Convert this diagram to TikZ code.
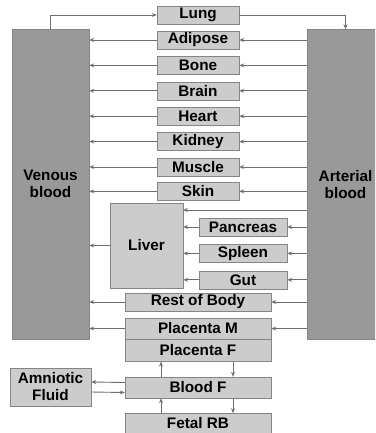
\documentclass[tikz,border=0pt]{standalone}
\usepackage{fontspec}
\setmainfont{Liberation Sans}
\usepackage{tikz}
\usetikzlibrary{
    arrows.meta,
    positioning,
    calc
}
\usepackage{xcolor}
\definecolor{poolgray}{HTML}{999999}
\definecolor{boxgray}{HTML}{CCCCCC}
\definecolor{edgegray}{HTML}{858585}
\definecolor{flowgray}{HTML}{6E6E6E}
\tikzstyle{pool} = [
    rectangle,
    draw=edgegray,
    fill=poolgray,
    minimum width=77pt,
    minimum height=310pt,
    inner sep=0pt,
    align=center,
    font=\bfseries\fontsize{15.3}{17}\selectfont
]
\tikzstyle{organ} = [
    rectangle,
    draw=edgegray,
    fill=boxgray,
    minimum width=82pt,
    minimum height=18pt,
    inner sep=0pt,
    font=\bfseries\fontsize{15.3}{17}\selectfont
]
\tikzstyle{arrow} = [
    -{Stealth[length=5pt,width=4pt]},
    line width=0.9pt,
    draw=flowgray
]

\begin{document}
\begin{tikzpicture}[x=1pt, y=-1pt]
        \clip (0,0) rectangle (375,433);

        % Blood pools
        \node[pool] (ven) at (50.5,184) {Venous\\blood};
        \node[pool] (art) at (345.5,184.5) {Arterial\\blood};

        % Organs
        \node[organ] (lung) at (198,15) {Lung};
        \node[organ] (adipose) at (198,40) {Adipose};
        \node[organ, below=7pt of adipose] (bone) {Bone};
        \node[organ, below=7pt of bone] (brain) {Brain};
        \node[organ, below=7pt of brain] (heart) {Heart};
        \node[organ, below=7pt of heart] (kidney) {Kidney};
        \node[organ, below=7pt of kidney] (muscle) {Muscle};
        \node[organ, below=6pt of muscle] (skin) {Skin};

        % Splanchnic
        \node[organ, minimum width=73pt, minimum height=85pt] (liver) at (146.5,245.5) {Liver};
        \node[organ, minimum width=88pt] (pancreas) at (243,227) {Pancreas};
        \node[organ, minimum width=88pt, below=8pt of pancreas] (spleen) {Spleen};
        \node[organ, minimum width=88pt, below=8pt of spleen] (gut) {Gut};
        \coordinate (liverin) at (183,210);

        % Rest and placenta
        \node[organ, minimum width=146pt] (rest) at (198,302) {Rest of Body};
        \node[organ, minimum width=146pt, minimum height=21pt] (placm) at (198,328.5) {Placenta M};
        \node[organ, minimum width=146pt, minimum height=22pt, below=0pt of placm] (placf) {Placenta F};

        % Fetus
        \node[organ, minimum width=146pt, minimum height=21pt] (bloodf) at (198,387.5) {Blood F};
        \node[organ, minimum width=146pt, minimum height=20pt, below=15pt of bloodf] (fetalrb) {Fetal RB};
        \node[organ, minimum width=81pt, minimum height=38pt, align=center] (amnio) at (50.5,387) {Amniotic\\Fluid};

        % Lung loop
        \draw[arrow] (ven.north) |- (lung.west);
        \draw[arrow] (lung.east) -| (art.north);

        % Arterial to organs to venous
        \foreach \o in {adipose,bone,brain,heart,kidney,muscle,skin,rest,placm} {
            \draw[arrow] (art.west |- \o) -- (\o.east);
            \draw[arrow] (\o.west) -- (ven.east |- \o);
        }

        % Liver inflow
        \draw[arrow] (art.west |- liverin) -- (liverin);
        \foreach \o in {pancreas,spleen,gut} {
            \draw[arrow] (art.west |- \o) -- (\o.east);
            \draw[arrow] (\o.west) -- (liver.east |- \o);
        }
        \draw[arrow] (liver.west) -- (ven.east |- liver.west);

        % Fetal exchange
        \draw[arrow] ($(placf.south)+(35,0)$) -- ($(bloodf.north)+(35,0)$);
        \draw[arrow] ($(bloodf.north)+(-37,0)$) -- ($(placf.south)+(-37,0)$);
        \draw[arrow] ($(bloodf.south)+(35,0)$) -- ($(fetalrb.north)+(35,0)$);
        \draw[arrow] ($(fetalrb.north)+(-37,0)$) -- ($(bloodf.south)+(-37,0)$);
        \draw[arrow] ($(bloodf.west)+(0,-5)$) -- ($(amnio.east)+(0,-5)$);
        \draw[arrow] ($(amnio.east)+(0,5)$) -- ($(bloodf.west)+(0,5)$);
    \end{tikzpicture}
\end{document}
